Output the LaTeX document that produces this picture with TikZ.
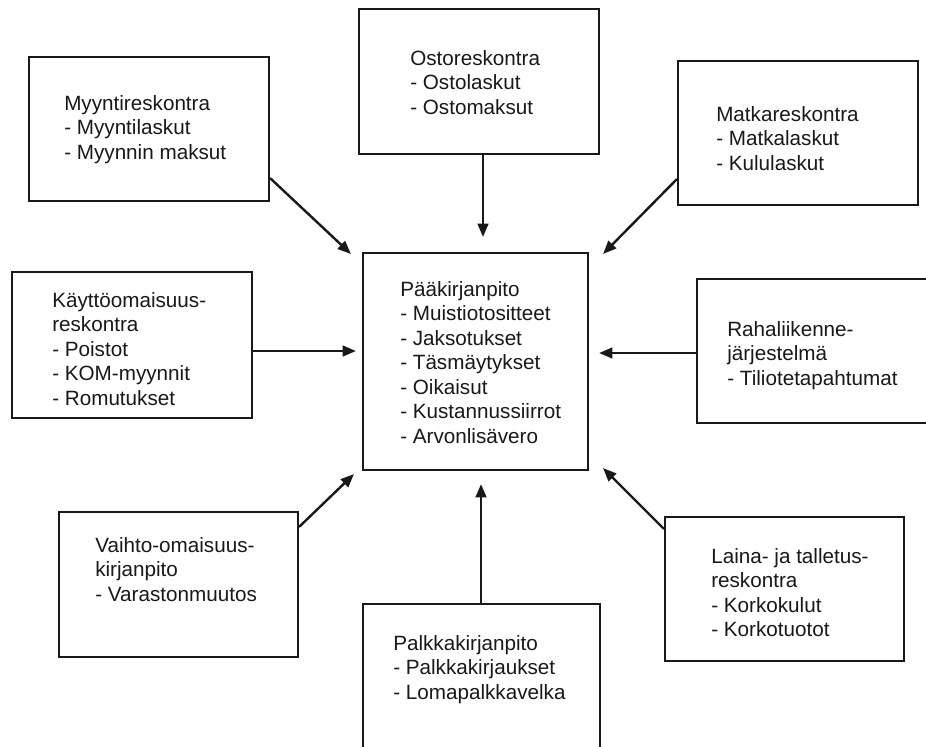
\documentclass[tikz,border=0pt]{standalone}
\usepackage{fontspec}
\setmainfont{Liberation Sans}
\usetikzlibrary{arrows.meta,calc}
\begin{document}
\begin{tikzpicture}[x=0.75pt,y=-0.75pt,
  box/.style={draw=black!90, line width=1.6pt, rectangle, inner sep=0pt},
  lbl/.style={anchor=north west, inner sep=0pt, align=left, font=\fontsize{15.5pt}{18.4pt}\selectfont, text=black!90},
  arr/.style={draw=black!90, line width=1.8pt, -{Triangle[length=10pt,width=8pt]}}]
\useasboundingbox (0,0) rectangle (926,747);
\clip (0,0) rectangle (926,747);
\fill[white] (0,0) rectangle (926,747);

% boxes
\node[box, minimum width=180pt, minimum height=108pt] (myynti) at (149,129) {};
\node[box, minimum width=180pt, minimum height=108.75pt] (osto) at (479,81.5) {};
\node[box, minimum width=180pt, minimum height=108pt] (matka) at (798,133) {};
\node[box, minimum width=180pt, minimum height=109.5pt] (kaytto) at (132,345) {};
\node[box, minimum width=168.75pt, minimum height=162.75pt] (paa) at (475.5,361.5) {};
\node[box, minimum width=180pt, minimum height=108pt] (raha) at (817,351) {};
\node[box, minimum width=179.25pt, minimum height=108.75pt] (vaihto) at (178.5,584.5) {};
\node[box, minimum width=177.75pt, minimum height=108.75pt] (palkka) at (481.5,676.5) {};
\node[box, minimum width=179.25pt, minimum height=108pt] (laina) at (784.5,589) {};

% texts
\node[lbl] (myyntiT) at (64,95) {Myyntireskontra\\- Myyntilaskut\\- Myynnin maksut};
\node[lbl] (ostoT) at (410,50) {Ostoreskontra\\- Ostolaskut\\- Ostomaksut};
\node[lbl] (matkaT) at (716,106) {Matkareskontra\\- Matkalaskut\\- Kululaskut};
\node[lbl] (kayttoT) at (52,292) {Käyttöomaisuus-\\reskontra\\- Poistot\\- KOM-myynnit\\- Romutukset};
\node[lbl] (paaT) at (400,281) {Pääkirjanpito\\- Muistiotositteet\\- Jaksotukset\\- Täsmäytykset\\- Oikaisut\\- Kustannussiirrot\\- Arvonlisävero};
\node[lbl] (rahaT) at (727,321) {Rahaliikenne-\\järjestelmä\\- Tiliotetapahtumat};
\node[lbl] (vaihtoT) at (95,537) {Vaihto-omaisuus-\\kirjanpito\\- Varastonmuutos};
\node[lbl] (palkkaT) at (393,635) {Palkkakirjanpito\\- Palkkakirjaukset\\- Lomapalkkavelka};
\node[lbl] (lainaT) at (711,548) {Laina- ja talletus-\\reskontra\\- Korkokulut\\- Korkotuotot};

% connectors
\draw[arr] ($(myynti.south east)+(0,-24)$) -- ($(paa.north west)+(-11,2)$);
\draw[arr] ($(osto.south)+(4,0)$) -- ($(paa.north)+(7.5,-15)$);
\draw[arr] ($(matka.south west)+(0,-27)$) -- ($(paa.north east)+(14,2)$);
\draw[arr] ($(kaytto.east)+(0,6)$) -- ($(paa.west)+(-6,-10.5)$);
\draw[arr] ($(raha.west)+(0,2)$) -- ($(paa.east)+(10,-8.5)$);
\draw[arr] ($(vaihto.north east)+(0,16)$) -- ($(paa.south west)+(-8,3)$);
\draw[arr] ($(palkka.north)+(-0.5,0)$) -- ($(paa.south)+(5.5,13)$);
\draw[arr] ($(laina.north west)+(0,13)$) -- ($(paa.south east)+(14,-3)$);
\end{tikzpicture}
\end{document}
